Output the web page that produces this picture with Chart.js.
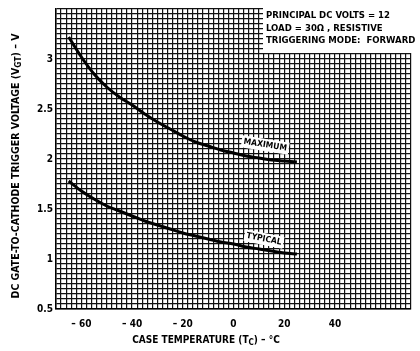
<!DOCTYPE html>
<html>
<head>
<meta charset="utf-8">
<script src="https://cdn.jsdelivr.net/npm/chart.js@4.4.0/dist/chart.umd.min.js"></script>
<style>
  html, body { margin: 0; padding: 0; background: #fff; }
  #wrap { width: 420px; height: 351px; }
</style>
</head>
<body>
<div id="wrap"><canvas id="gateChart"></canvas></div>
<script>
// case temperature (degC) and gate trigger voltage readings
const temps = [-65, -60, -55, -50, -45, -40, -35, -30, -25, -20, -15, -10, -5, 0, 5, 10, 15, 20, 25];
const maxVolts = [3.22, 3.02, 2.85, 2.72, 2.62, 2.54, 2.45, 2.37, 2.30, 2.23, 2.17, 2.13, 2.09, 2.06, 2.03, 2.01, 1.99, 1.98, 1.97];
const typVolts = [1.78, 1.68, 1.60, 1.53, 1.48, 1.43, 1.38, 1.34, 1.30, 1.26, 1.23, 1.20, 1.17, 1.15, 1.12, 1.10, 1.08, 1.06, 1.05];

const xTickLabels = [-60, -40, -20, 0, 20, 40];
const yTickLabels = [0.5, 1, 1.5, 2, 2.5, 3];
const noteLines = ['PRINCIPAL DC VOLTS = 12', 'LOAD = 30\u03A9 , RESISTIVE', 'TRIGGERING MODE:  FORWARD'];

const FONT = '"DejaVu Sans Condensed", "Liberation Sans Narrow", sans-serif';

function toPoints(xs, ys) {
    return xs.map((x, i) => ({ x: x, y: ys[i] }));
}

// draws text pieces, some as subscripts, starting at x
function drawPieces(ctx, pieces, x, y, size) {
    pieces.forEach(p => {
        const s = p.sub ? size * 0.8 : size;
        ctx.font = 'bold ' + s + 'px ' + FONT;
        ctx.fillText(p.t, x, p.sub ? y + size * 0.3 : y);
        x += ctx.measureText(p.t).width;
    });
}
function piecesWidth(ctx, pieces, size) {
    let w = 0;
    pieces.forEach(p => {
        ctx.font = 'bold ' + (p.sub ? size * 0.8 : size) + 'px ' + FONT;
        w += ctx.measureText(p.t).width;
    });
    return w;
}

function curveLabel(ctx, text, cx, cy, angle) {
    ctx.save();
    ctx.translate(cx, cy);
    ctx.rotate(angle * Math.PI / 180);
    ctx.font = 'bold 8.5px ' + FONT;
    const w = ctx.measureText(text).width;
    ctx.fillStyle = '#fff';
    ctx.fillRect(-w / 2 - 2, -6, w + 4, 12);
    ctx.fillStyle = '#000';
    ctx.textAlign = 'center';
    ctx.textBaseline = 'middle';
    ctx.fillText(text, 0, 0);
    ctx.restore();
}

const extras = {
    id: 'extras',
    afterDatasetsDraw(chart) {
        const ctx = chart.ctx;
        const xs = chart.scales.x, ys = chart.scales.y;
        ctx.save();

        // conditions box
        ctx.fillStyle = '#fff';
        ctx.fillRect(263, 0, 157, 53);
        ctx.fillStyle = '#000';
        ctx.font = 'bold 9.5px ' + FONT;
        ctx.textBaseline = 'middle';
        ctx.textAlign = 'left';
        noteLines.forEach((l, i) => ctx.fillText(l, 266, 16 + i * 12.5));

        // curve labels
        curveLabel(ctx, 'MAXIMUM', xs.getPixelForValue(12.5), ys.getPixelForValue(2.14), 9);
        curveLabel(ctx, 'TYPICAL', xs.getPixelForValue(12), ys.getPixelForValue(1.2), 11);

        // axis titles
        ctx.fillStyle = '#000';
        ctx.textAlign = 'left';
        ctx.textBaseline = 'middle';
        const xt = [{ t: 'CASE TEMPERATURE (T' }, { t: 'C', sub: true }, { t: ') \u2013 \u00B0C' }];
        const xw = piecesWidth(ctx, xt, 10);
        drawPieces(ctx, xt, 206 - xw / 2, 340, 10);

        const yt = [{ t: 'DC GATE-TO-CATHODE TRIGGER VOLTAGE (V' }, { t: 'GT', sub: true }, { t: ') \u2013 V' }];
        ctx.save();
        ctx.translate(16, 166);
        ctx.rotate(-Math.PI / 2);
        const yw = piecesWidth(ctx, yt, 10.5);
        drawPieces(ctx, yt, -yw / 2, 0, 10.5);
        ctx.restore();

        ctx.restore();
    }
};

new Chart(document.getElementById('gateChart'), {
    type: 'line',
    data: {
        datasets: [{
            label: 'Maximum',
            data: toPoints(temps, maxVolts),
            borderColor: '#000',
            borderWidth: 3,
            pointRadius: 0,
            cubicInterpolationMode: 'monotone',
            fill: false
        }, {
            label: 'Typical',
            data: toPoints(temps, typVolts),
            borderColor: '#000',
            borderWidth: 3,
            pointRadius: 0,
            cubicInterpolationMode: 'monotone',
            fill: false
        }]
    },
    options: {
        responsive: true,
        maintainAspectRatio: false,
        animation: false,
        layout: { padding: { top: 4, right: 3, left: 0, bottom: 0 } },
        plugins: { legend: { display: false }, tooltip: { enabled: false } },
        scales: {
            x: {
                type: 'linear',
                min: -70,
                max: 70,
                afterFit: s => { s.height = 42; },
                grid: { color: '#111', lineWidth: 1.2, drawTicks: false },
                border: { color: '#000', width: 1.5 },
                ticks: {
                    stepSize: 2,
                    autoSkip: false,
                    maxRotation: 0,
                    padding: 9,
                    color: '#000',
                    font: { family: FONT, size: 10, weight: 'bold' },
                    callback: v => xTickLabels.includes(v) ? (v < 0 ? '\u2013 ' + Math.abs(v) : String(v)) : ''
                }
            },
            y: {
                min: 0.5,
                max: 3.5,
                afterFit: s => { s.width = 56; },
                grid: { color: '#111', lineWidth: 1.2, drawTicks: false },
                border: { color: '#000', width: 1.5 },
                ticks: {
                    stepSize: 0.05,
                    autoSkip: false,
                    padding: 3,
                    color: '#000',
                    font: { family: FONT, size: 10, weight: 'bold' },
                    callback: v => {
                        const r = Math.round(v * 100) / 100;
                        return yTickLabels.includes(r) ? String(r) : '';
                    }
                }
            }
        }
    },
    plugins: [extras]
});
</script>
</body>
</html>
